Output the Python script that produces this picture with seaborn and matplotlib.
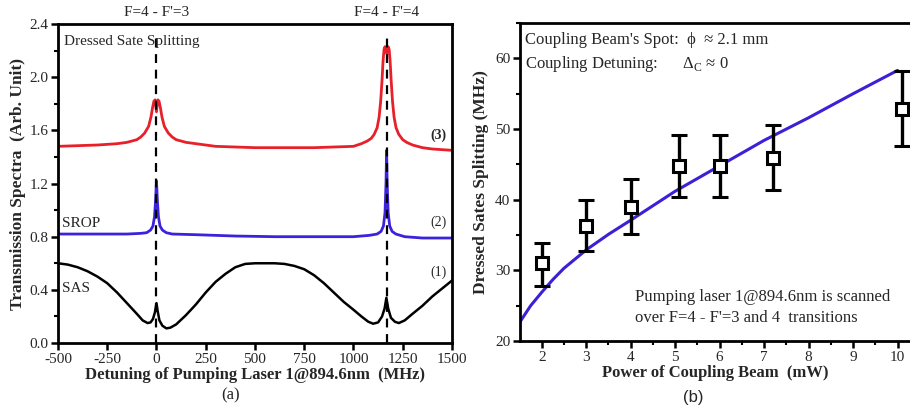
import numpy as np
import pandas as pd
import seaborn as sns
import matplotlib.pyplot as plt
from matplotlib.ticker import MultipleLocator

# ---- panel (a): transmission spectra ----
red_x = [-500, -400, -300, -200, -150, -100, -80, -60, -40, -28, -20, -13, -7, -2, 0,
         2, 7, 13, 20, 28, 40, 60, 80, 100, 150, 200, 300, 400, 500, 600, 700, 800, 900,
         1000, 1040, 1070, 1090, 1105, 1120, 1130, 1138, 1145, 1150, 1155, 1160, 1165, 1168,
         1171, 1176, 1181, 1186, 1191, 1198, 1206, 1216, 1230, 1250, 1270, 1300, 1350, 1400, 1500]
red_y = [1.48, 1.485, 1.49, 1.50, 1.51, 1.53, 1.55, 1.58, 1.63, 1.70, 1.77, 1.82, 1.83,
         1.77, 1.74, 1.77, 1.83, 1.82, 1.77, 1.70, 1.63, 1.58, 1.55, 1.53, 1.51, 1.50,
         1.48, 1.475, 1.47, 1.47, 1.47, 1.47, 1.475, 1.48, 1.50, 1.52, 1.54, 1.57, 1.62,
         1.70, 1.82, 1.98, 2.12, 2.21, 2.23, 2.20, 2.18, 2.20, 2.23, 2.21, 2.12, 1.98, 1.82,
         1.70, 1.62, 1.57, 1.53, 1.51, 1.49, 1.47, 1.46, 1.45]

blue_x = [-500, -300, -150, -80, -50, -30, -18, -10, -5, 0, 5, 10, 18, 30, 50, 80, 200, 400,
          600, 800, 1000, 1080, 1120, 1140, 1152, 1160, 1165, 1168, 1171, 1176, 1184, 1196,
          1215, 1260, 1350, 1500]
blue_y = [0.82, 0.82, 0.82, 0.825, 0.83, 0.85, 0.88, 0.95, 1.06, 1.22, 1.06, 0.95, 0.88, 0.85,
          0.83, 0.82, 0.815, 0.805, 0.80, 0.80, 0.80, 0.81, 0.82, 0.84, 0.88, 0.98, 1.20, 1.45,
          1.20, 0.98, 0.88, 0.84, 0.82, 0.80, 0.79, 0.79]

black_x = [-500, -450, -400, -350, -300, -250, -200, -150, -100, -70, -45, -30, -18, -8, 0, 6,
           15, 30, 50, 70, 100, 150, 200, 250, 300, 350, 400, 450, 500, 600, 650, 700, 750,
           800, 850, 900, 950, 1000, 1040, 1075, 1100, 1125, 1145, 1158, 1167, 1176, 1190,
           1210, 1230, 1260, 1300, 1350, 1400, 1450, 1500]
black_y = [0.60, 0.59, 0.57, 0.54, 0.50, 0.45, 0.38, 0.30, 0.22, 0.17, 0.15, 0.155, 0.18, 0.23,
           0.30, 0.24, 0.17, 0.13, 0.11, 0.115, 0.14, 0.21, 0.29, 0.38, 0.46, 0.52, 0.57, 0.595,
           0.60, 0.60, 0.595, 0.58, 0.555, 0.51, 0.45, 0.38, 0.31, 0.25, 0.20, 0.16, 0.145,
           0.155, 0.20, 0.26, 0.34, 0.26, 0.19, 0.16, 0.15, 0.17, 0.22, 0.28, 0.35, 0.41, 0.47]

transitions = [0, 1168]
transition_labels = ["F=4 - F'=3", "F=4 - F'=4"]

# ---- panel (b): dressed state splitting vs coupling power ----
power = [2.0, 3.0, 4.0, 5.09, 6.0, 7.19, 10.09]
splitting = [31.0, 36.3, 39.0, 44.7, 44.7, 45.9, 52.8]
err_low = [27.8, 32.7, 35.2, 40.4, 40.4, 41.4, 47.6]
err_high = [33.9, 39.9, 43.0, 49.2, 49.2, 50.6, 58.2]

fit_power = [1.51, 1.75, 2.0, 2.25, 2.5, 3.0, 3.5, 4.0, 5.0, 6.0, 7.0, 8.0, 9.0, 10.0]
fit_split = [22.7, 25.0, 26.9, 28.7, 30.3, 32.9, 35.1, 37.1, 41.2, 44.8, 48.4, 51.6, 55.0, 58.3]

sns.set_theme(style="ticks")
plt.rcParams['font.family'] = ['Liberation Serif', 'DejaVu Serif']
plt.rcParams['mathtext.fontset'] = 'custom'
plt.rcParams['mathtext.rm'] = 'Liberation Serif'
plt.rcParams['axes.unicode_minus'] = False

fig = plt.figure(figsize=(9.1, 4.12), dpi=100)
ax1 = fig.add_axes([0.0637, 0.1675, 0.433, 0.774])
ax2 = fig.add_axes([0.5714, 0.1723, 0.4286, 0.7717])

# panel (a)
sns.lineplot(x=red_x, y=red_y, ax=ax1, color="#e8202a", linewidth=2.0)
sns.lineplot(x=blue_x, y=blue_y, ax=ax1, color="#3b22dd", linewidth=2.0)
sns.lineplot(x=black_x, y=black_y, ax=ax1, color="black", linewidth=1.8)
for t in transitions:
    ax1.plot([t, t], [0, 2.33], color="black", linestyle=(0, (4, 3)), linewidth=1.6)
for t, lab in zip(transitions, transition_labels):
    ax1.text(t, 2.44, lab, ha="center", va="bottom", fontsize=11)

ax1.set_xlim(-500, 1500)
ax1.set_ylim(0, 2.4)
ax1.xaxis.set_major_locator(MultipleLocator(250))
ax1.yaxis.set_major_locator(MultipleLocator(0.4))
ax1.yaxis.set_minor_locator(MultipleLocator(0.2))
ax1.yaxis.set_major_formatter(plt.FormatStrFormatter('%.1f'))
ax1.text(-470, 2.27, "Dressed Sate Splitting", fontsize=11, va="center")
ax1.text(-478, 0.90, "SROP", fontsize=11, va="center")
ax1.text(-478, 0.41, "SAS", fontsize=11, va="center")
ax1.text(1430, 1.56, "(3)", fontsize=10, va="center", ha="center", fontweight="bold")
ax1.text(1430, 0.91, "(2)", fontsize=10, va="center", ha="center")
ax1.text(1430, 0.53, "(1)", fontsize=10, va="center", ha="center")
ax1.set_xlabel("Detuning of Pumping Laser 1@894.6nm  (MHz)", fontsize=12, fontweight="bold", labelpad=1)
ax1.set_ylabel("Transmission Spectra  (Arb. Unit)", fontsize=12.5, fontweight="bold", labelpad=2)
fig.text(0.253, 0.03, "(a)", fontsize=12, ha="center")

# panel (b)
sns.lineplot(x=fit_power, y=fit_split, ax=ax2, color="#3f1fd6", linewidth=2.2)
yerr = [np.array(splitting) - np.array(err_low), np.array(err_high) - np.array(splitting)]
ax2.errorbar(power, splitting, yerr=yerr, fmt="s", color="black", mfc="white", mec="black",
             ms=9, mew=2.2, elinewidth=2.4, capsize=6, capthick=2.2, zorder=5)
ax2.set_xlim(1.51, 10.28)
ax2.set_ylim(20, 65)
ax2.xaxis.set_minor_locator(MultipleLocator(0.5))
ax2.set_xticks(range(2, 11))
ax2.yaxis.set_major_locator(MultipleLocator(10))
ax2.yaxis.set_minor_locator(MultipleLocator(5))
ax2.spines["right"].set_visible(False)
ax2.text(1.62, 62.6, "Coupling Beam's Spot:  \u03d5  \u2248 2.1 mm", fontsize=12, va="center")
ax2.text(1.62, 59.2, "Coupling Detuning:      $\\Delta_\\mathrm{C}$ \u2248 0", fontsize=12, va="center")
ax2.text(4.1, 26.3, "Pumping laser 1@894.6nm is scanned", fontsize=12, va="center")
ax2.text(4.1, 23.2, "over F=4 - F'=3 and 4  transitions", fontsize=12, va="center")
ax2.set_xlabel("Power of Coupling Beam  (mW)", fontsize=12, fontweight="bold", labelpad=1)
ax2.set_ylabel("Dressed Sates Splitting (MHz)", fontsize=12.5, fontweight="bold", labelpad=4)
fig.text(0.762, 0.025, "(b)", fontsize=12, ha="center", family="Liberation Sans")

for ax in (ax1, ax2):
    for s in ax.spines.values():
        s.set_linewidth(2.0)
        s.set_color("black")
    ax.tick_params(which="major", direction="out", length=5, width=1.8, labelsize=11,
                   color="black", pad=2)
    ax.tick_params(which="minor", direction="out", length=3, width=1.5, color="black")

fig.savefig("out.png", dpi=100)
